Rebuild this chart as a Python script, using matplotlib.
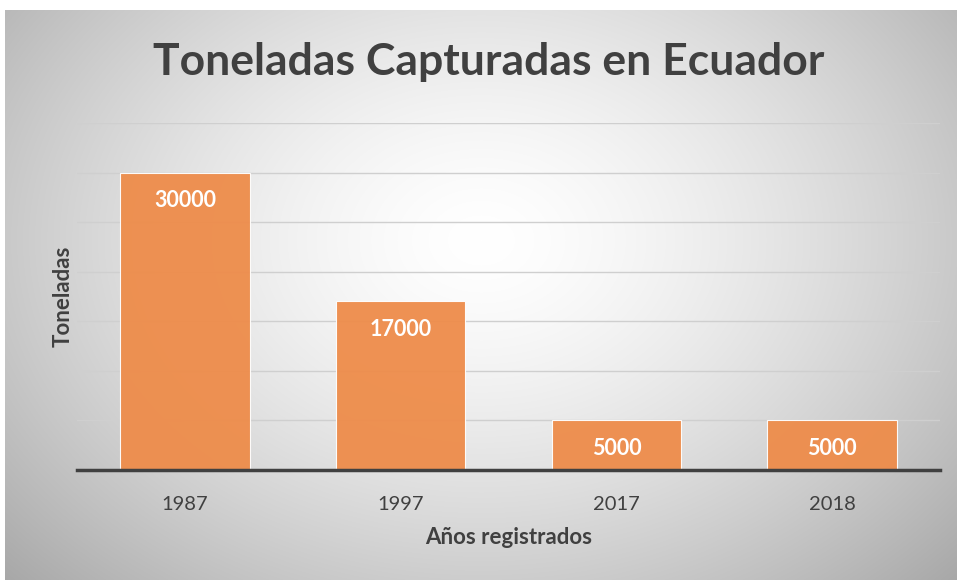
import numpy as np
import matplotlib
matplotlib.use("Agg")
import matplotlib.pyplot as plt

categories = ["1987", "1997", "2017", "2018"]
values = [30000, 17000, 5000, 5000]
title = "Toneladas Capturadas en Ecuador"
xlabel = "Años registrados"
ylabel = "Toneladas"

plt.rcParams['font.family'] = ['Lato', 'DejaVu Sans']

W, H = 957, 580
fig = plt.figure(figsize=(W / 100, H / 100), dpi=100)
fig.patch.set_facecolor("white")

# radial gradient background
bg = fig.add_axes([5 / W, 0, 1 - 5 / W, 1 - 10 / H])
bg.set_axis_off()
yy, xx = np.mgrid[0:570, 0:952]
cx, cy = 476, 230
r = np.sqrt(((xx - cx) / 560.0) ** 2 + ((yy - cy) / 420.0) ** 2)
v = 1.0 - 0.27 * np.clip(r, 0, 1.3) ** 1.5
img = np.dstack([v, v, v])
bg.imshow(img, aspect="auto", extent=[0, 1, 0, 1], origin="upper")
bg.set_xlim(0, 1)
bg.set_ylim(0, 1)

left, right, bottom, top = 77, 940, 470, 123
ax = fig.add_axes([left / W, 1 - bottom / H, (right - left) / W, (bottom - top) / H])
ax.patch.set_alpha(0)
x = np.arange(len(categories))
bars = ax.bar(x, values, width=0.6, color="#ee8c4a", alpha=0.95, edgecolor="white", linewidth=0.8, zorder=3)
ax.set_xlim(-0.5, len(categories) - 0.5)
ax.set_ylim(0, 35000)
ax.set_yticks(np.arange(0, 35001, 5000))
ax.yaxis.grid(True, color="#cfcfcf", linewidth=1.0, zorder=0)
ax.tick_params(axis="y", length=0, labelleft=False)
ax.tick_params(axis="x", length=0, pad=19, labelsize=14.5, labelcolor="#404040")
ax.set_xticks(x)
ax.set_xticklabels(categories)
for s in ["left", "right", "top"]:
    ax.spines[s].set_visible(False)
ax.spines["bottom"].set_color("#404040")
ax.spines["bottom"].set_linewidth(2.5)
ax.spines["bottom"].set_zorder(4)

for xi, val in zip(x, values):
    ax.annotate(str(val), (xi, val), xytext=(0, -20), textcoords="offset points",
                ha="center", va="center", color="white", fontsize=15.5, fontweight="bold", zorder=5)

ax.set_xlabel(xlabel, fontsize=16, fontweight="bold", color="#404040", labelpad=10)
ax.set_ylabel(ylabel, fontsize=16, fontweight="bold", color="#404040")
ax.yaxis.set_label_coords(-3 / (right - left), 0.5)

fig.text(489 / W, 1 - 62 / H, title, ha="center", va="center", fontsize=32, fontweight="bold", color="#404040")

fig.savefig("out.png", dpi=100)
